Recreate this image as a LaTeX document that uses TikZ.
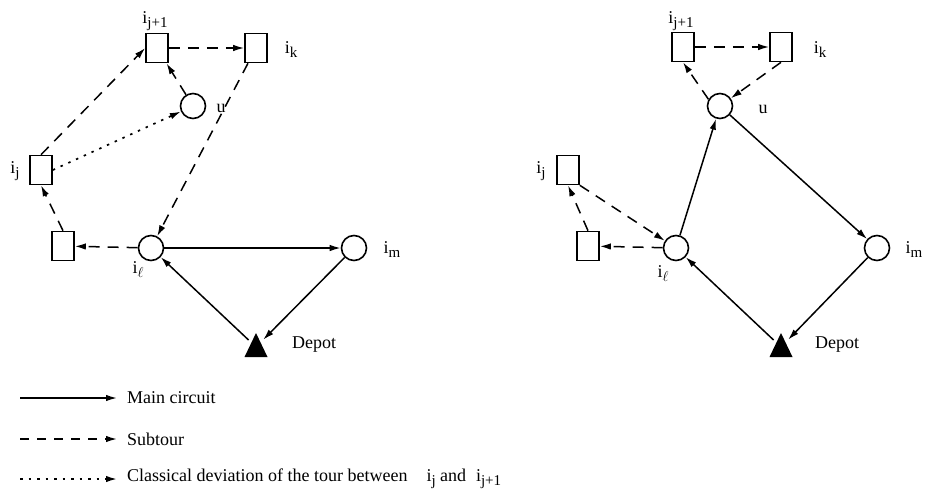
\documentclass[tikz,border=0pt]{standalone}
\usepackage{fontspec}
\setmainfont{Liberation Serif}
\usetikzlibrary{arrows.meta,calc}
\newcommand\sbs[1]{\raisebox{-4pt}{\fontsize{15}{15}\selectfont #1}}
\newcommand\lsbs[1]{\raisebox{-4pt}{\fontsize{14}{14}\selectfont #1}}
\begin{document}
\begin{tikzpicture}[x=1pt,y=-1pt,
  box/.style={draw,line width=1.6pt,minimum width=22pt,minimum height=29pt,inner sep=0pt},
  cir/.style={draw,line width=1.6pt,circle,minimum size=25pt,inner sep=0pt},
  depnode/.style={circle,minimum size=20pt,inner sep=0pt},
  lbl/.style={font=\fontsize{18}{20}\selectfont,inner sep=0pt},
  leg/.style={font=\fontsize{18}{20}\selectfont,inner sep=0pt,anchor=west},
  tip/.style={-{Latex[length=11pt,width=6.5pt]}},
  mainc/.style={line width=1.5pt,tip},
  subt/.style={line width=1.5pt,dash pattern=on 11pt off 8pt,tip},
  devi/.style={line width=1.7pt,dash pattern=on 2.5pt off 6pt,tip},
]
\useasboundingbox (0,0) rectangle (931,493);

% ---------- left diagram ----------
\node[box] (ij1) at (157,48) {};
\node[box] (ik)  at (256,48) {};
\node[cir] (u)   at (193,106) {};
\node[box] (ij)  at (41,170) {};
\node[box] (lb)  at (63,246) {};
\node[cir] (il)  at (151,248) {};
\node[cir] (im)  at (354,248) {};
\node[depnode] (dep) at (256,347) {};
\fill ($(dep)+(0,-14)$) -- ($(dep)+(-11.5,10)$) -- ($(dep)+(11.5,10)$) -- cycle;

\node[lbl] (Lij1) at (155,21) {i\sbs{j+1}};
\node[lbl] (Lik)  at (291,50) {i\sbs{k}};
\node[lbl] (Lu)   at (221,108) {u};
\node[lbl] (Lij)  at (15,171) {i\sbs{j}};
\node[lbl] (Lil)  at (138,270) {i\lsbs{$\ell$}};
\node[lbl] (Lim)  at (392,250) {i\sbs{m}};
\node[lbl,anchor=west] (Ldep) at (292,345) {Depot};

\draw[subt] (ij1.east) -- (ik.west);
\draw[subt] (ik) -- (il);
\draw[subt] (u) -- (ij1);
\draw[subt] (ij.north) -- (ij1.west);
\draw[devi] (ij.east) -- (u);
\draw[subt] (lb.north) -- (ij.south);
\draw[subt] (il) -- (lb);
\draw[mainc] (il) -- (im);
\draw[mainc] (im) -- (dep);
\draw[mainc] (dep) -- (il);

% ---------- right diagram ----------
\node[box] (Rij1) at (683,47) {};
\node[box] (Rik)  at (781,47) {};
\node[cir] (Ru)   at (720,106) {};
\node[box] (Rij)  at (568,170) {};
\node[box] (Rlb)  at (588,246) {};
\node[cir] (Ril)  at (676,248) {};
\node[cir] (Rim)  at (877,248) {};
\node[depnode] (Rdep) at (781,347) {};
\fill ($(Rdep)+(0,-14)$) -- ($(Rdep)+(-11.5,10)$) -- ($(Rdep)+(11.5,10)$) -- cycle;

\node[lbl] (RLij1) at (681,21) {i\sbs{j+1}};
\node[lbl] (RLik)  at (820,50) {i\sbs{k}};
\node[lbl] (RLu)   at (763,109) {u};
\node[lbl] (RLij)  at (541,171) {i\sbs{j}};
\node[lbl] (RLil)  at (663,274) {i\lsbs{$\ell$}};
\node[lbl] (RLim)  at (914,250) {i\sbs{m}};
\node[lbl,anchor=west] (RLdep) at (815,345) {Depot};

\draw[subt] (Rij1.east) -- (Rik.west);
\draw[subt] (Rik.south) -- (Ru);
\draw[subt] (Ru.150) -- (Rij1.south);
\draw[mainc] (Ru) -- (Rim);
\draw[mainc] (Ril) -- (Ru);
\draw[mainc] (Rdep) -- (Ril);
\draw[mainc] (Rim) -- (Rdep);
\draw[subt] (Ril) -- (Rlb);
\draw[subt] (Rlb.north) -- (Rij.south);
\draw[subt] (Rij.south east) -- (Ril);

% ---------- legend ----------
\coordinate (a1) at (20,398);  \coordinate (b1) at (117,398);
\coordinate (a2) at (20,439);  \coordinate (b2) at (117,439);
\coordinate (a3) at (20,479);  \coordinate (b3) at (117,479);
\draw[mainc] (a1) -- (b1);
\draw[line width=1.5pt,dash pattern=on 9pt off 8pt,tip] (a2) -- (b2);
\draw[devi] (a3) -- (b3);
\node[leg] (T1) at (127,398) {Main circuit};
\node[leg] (T2) at (127,439) {Subtour};
\node[leg] (T3) at (127,479) {Classical deviation of the tour between\hspace{0.8em} i\sbs{j} and\hspace{0.3em} i\sbs{j+1}};
\end{tikzpicture}
\end{document}
